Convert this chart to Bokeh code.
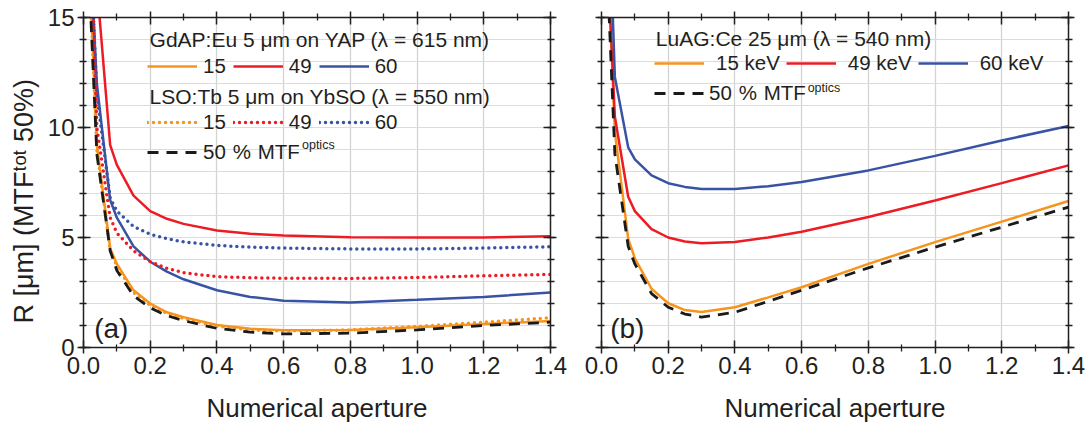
from bokeh.plotting import figure
from bokeh.layouts import row
from bokeh.models import (Range1d, SingleIntervalTicker, FixedTicker, LinearAxis, PrintfTickFormatter,
                          CustomJSTickFormatter, Legend, LegendItem, Label)
from bokeh.embed import file_html
from bokeh.resources import INLINE

FONT = "Liberation Sans"
TXT = "#231f20"
ORANGE = "#f7941d"
RED = "#ed1c24"
BLUE = "#3953a4"

# ---------------- data ----------------
na = [0.02, 0.04, 0.08, 0.1, 0.15, 0.2, 0.25, 0.3, 0.4, 0.5, 0.6, 0.8, 1.0, 1.2, 1.4]

# panel (a): GdAP:Eu 5 um on YAP (solid), LSO:Tb 5 um on YbSO (dotted), optics (dashed)
gdap_15 = [16.4, 9.2, 4.5, 3.8, 2.6, 2.0, 1.6, 1.38, 1.02, 0.85, 0.78, 0.8, 0.92, 1.07, 1.2]
gdap_49 = [30.0, 16.5, 9.2, 8.3, 6.9, 6.2, 5.85, 5.62, 5.32, 5.17, 5.09, 5.01, 5.0, 5.0, 5.06]
gdap_60 = [18.0, 12.0, 6.7, 5.9, 4.6, 3.9, 3.45, 3.1, 2.6, 2.3, 2.13, 2.05, 2.17, 2.3, 2.5]
lso_15 = [16.3, 9.0, 4.4, 3.7, 2.5, 1.92, 1.55, 1.32, 0.97, 0.8, 0.75, 0.8, 0.96, 1.15, 1.35]
lso_49 = [20.0, 10.0, 5.9, 5.2, 4.4, 3.9, 3.6, 3.4, 3.22, 3.17, 3.15, 3.14, 3.18, 3.26, 3.32]
lso_60 = [18.5, 11.5, 6.8, 6.2, 5.5, 5.15, 4.95, 4.8, 4.64, 4.56, 4.52, 4.48, 4.48, 4.52, 4.58]
optics_a = [15.7, 8.8, 4.4, 3.5, 2.35, 1.8, 1.45, 1.22, 0.87, 0.7, 0.62, 0.65, 0.8, 1.0, 1.15]

# panel (b): LuAG:Ce 25 um
luag_15 = [17.2, 9.8, 4.95, 4.05, 2.67, 2.01, 1.7, 1.61, 1.83, 2.28, 2.74, 3.8, 4.79, 5.72, 6.66]
luag_49 = [17.0, 10.5, 6.85, 6.2, 5.38, 5.0, 4.82, 4.74, 4.8, 5.0, 5.26, 5.93, 6.68, 7.47, 8.28]
luag_60 = [21.3, 12.3, 9.1, 8.55, 7.82, 7.47, 7.3, 7.2, 7.2, 7.33, 7.52, 8.05, 8.71, 9.41, 10.07]
optics_b = [16.1, 8.8, 4.6, 3.8, 2.45, 1.83, 1.52, 1.38, 1.6, 2.1, 2.6, 3.62, 4.56, 5.47, 6.38]

x_ticks = [0.0, 0.2, 0.4, 0.6, 0.8, 1.0, 1.2, 1.4]
x_minor = [0.1, 0.3, 0.5, 0.7, 0.9, 1.1, 1.3]
x_title = "Numerical aperture"
y_title = "R [μm] (MTFᵗᵒᵗ 50%)\u00a0\u00a0\u00a0\u00a0\u00a0"
energies_a = ["15", "49", "60"]
energies_b = ["15 keV", "49 keV", "60 keV"]
optics_label = "50\u2004%\u2004MTF"


def style_axis(ax, is_x, labels):
    if is_x:
        ax.ticker = FixedTicker(ticks=x_ticks, minor_ticks=x_minor)
    else:
        ax.ticker = SingleIntervalTicker(interval=5, num_minor_ticks=5)
    ax.axis_line_color = TXT
    ax.axis_line_width = 1.5
    ax.major_tick_line_color = TXT
    ax.major_tick_line_width = 1.5
    ax.major_tick_in = 7
    ax.major_tick_out = 6
    ax.minor_tick_line_color = TXT
    ax.minor_tick_line_width = 1.3
    ax.minor_tick_in = 3
    ax.minor_tick_out = 4
    if labels:
        ax.major_label_text_font = FONT
        ax.major_label_text_font_size = "24px"
        ax.major_label_text_color = TXT
        ax.major_label_standoff = 3
        if is_x:
            ax.formatter = PrintfTickFormatter(format="%.1f")
    else:
        ax.formatter = CustomJSTickFormatter(code="return ''")
        ax.major_label_text_font_size = "1px"
        ax.major_label_standoff = 0


def make_fig(width, left, right, ylabels):
    p = figure(width=width, height=428, x_range=Range1d(0, 1.4), y_range=Range1d(0, 15),
               output_backend="svg", toolbar_location=None,
               min_border_left=left, min_border_right=right,
               min_border_top=17, min_border_bottom=81)
    p.outline_line_color = None
    style_axis(p.xaxis[0], True, True)
    style_axis(p.yaxis[0], False, ylabels)
    xa = p.xaxis[0]
    xa.axis_label = x_title
    xa.axis_label_text_font = FONT
    xa.axis_label_text_font_size = "26px"
    xa.axis_label_text_font_style = "normal"
    xa.axis_label_text_color = TXT
    xa.axis_label_standoff = 16
    top = LinearAxis()
    style_axis(top, True, False)
    p.add_layout(top, "above")
    rt = LinearAxis()
    style_axis(rt, False, False)
    p.add_layout(rt, "right")
    p.xgrid.ticker = FixedTicker(ticks=x_ticks)
    p.ygrid.ticker = SingleIntervalTicker(interval=1)
    p.xgrid.grid_line_color = "#d3d3d3"
    p.xgrid.grid_line_width = 1.3
    p.ygrid.grid_line_color = "#dcdcdc"
    p.ygrid.grid_line_width = 1
    return p


def legend_row(items, loc, standoff, spacing):
    return Legend(items=items, orientation="horizontal", location=loc,
                  glyph_width=50, glyph_height=24, label_height=24,
                  label_standoff=standoff, spacing=spacing, padding=0, margin=0,
                  border_line_color=None, background_fill_alpha=0,
                  label_text_font=FONT, label_text_font_size="20.5px",
                  label_text_color=TXT)


def text(x, y, s, size):
    return Label(x=x, y=y, text=s, text_font=FONT, text_font_size=size,
                 text_color=TXT, text_baseline="middle", text_align="left")


SOLID_W = 2.5
DOT = dict(line_dash="0 6", line_cap="round", line_width=3.5)
DASH = dict(line_dash="11 8", line_width=2.8, line_color="#1a1a1a")

# ---------------- panel (a) ----------------
p1 = make_fig(575, 83, 25, True)
ya = p1.yaxis[0]
ya.axis_label = y_title
ya.axis_label_text_font = FONT
ya.axis_label_text_font_size = "27px"
ya.axis_label_text_font_style = "normal"
ya.axis_label_text_color = TXT
ya.axis_label_standoff = 6

ra = [p1.line(na, v, line_color=c, line_width=SOLID_W)
      for v, c in zip([gdap_15, gdap_49, gdap_60], [ORANGE, RED, BLUE])]
rd = [p1.line(na, v, line_color=c, **DOT)
      for v, c in zip([lso_15, lso_49, lso_60], [ORANGE, RED, BLUE])]
ro = p1.line(na, optics_a, **DASH)

p1.add_layout(legend_row([LegendItem(label=e, renderers=[r]) for e, r in zip(energies_a, ra)],
                         (64, 269), 6, 7))
p1.add_layout(legend_row([LegendItem(label=e, renderers=[r]) for e, r in zip(energies_a, rd)],
                         (64, 213), 6, 7))
p1.add_layout(legend_row([LegendItem(label=optics_label, renderers=[ro])], (64, 183), 6, 7))

p1.add_layout(text(0.198, 13.98, "GdAP:Eu 5 μm on YAP (λ = 615 nm)", "21px"))
p1.add_layout(text(0.198, 11.4, "LSO:Tb 5 μm on YbSO (λ = 550 nm)", "21px"))
p1.add_layout(text(0.655, 9.2, "optics", "12.5px"))
p1.add_layout(text(0.032, 0.85, "(a)", "28px"))

# ---------------- panel (b) ----------------
p2 = make_fig(516, 26, 23, False)
rb = [p2.line(na, v, line_color=c, line_width=SOLID_W)
      for v, c in zip([luag_15, luag_49, luag_60], [ORANGE, RED, BLUE])]
rob = p2.line(na, optics_b, **DASH)

p2.add_layout(legend_row([LegendItem(label=e, renderers=[r]) for e, r in zip(energies_b, rb)],
                         (53, 272), 12, 6))
p2.add_layout(legend_row([LegendItem(label=optics_label, renderers=[rob])], (53, 242), 5, 6))
p2.add_layout(text(0.163, 14.05, "LuAG:Ce 25 μm (λ = 540 nm)", "21px"))
p2.add_layout(text(0.618, 11.8, "optics", "12.5px"))
p2.add_layout(text(0.026, 0.85, "(b)", "28px"))

layout = row(p1, p2)
open("out.html", "w").write(file_html(layout, INLINE))
